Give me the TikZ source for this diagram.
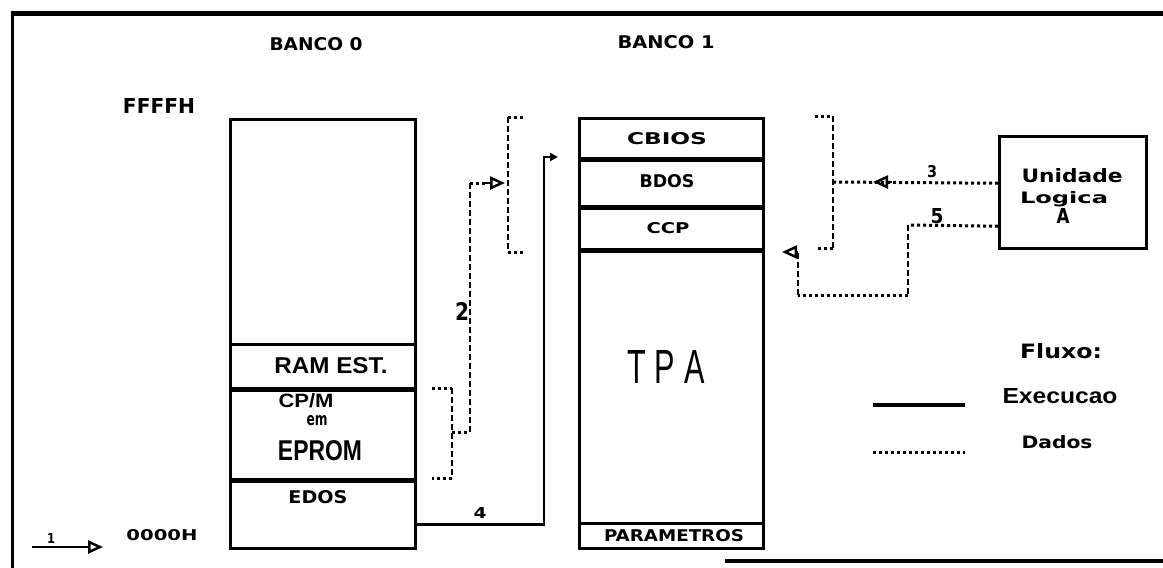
\documentclass[tikz,border=0pt]{standalone}
\usepackage{fontspec}
\setmainfont{Liberation Sans}
\newfontfamily\heavy{DejaVu Sans}
\usetikzlibrary{arrows.meta}
\newcommand{\fitbox}[3]{\resizebox{#1pt}{#2pt}{#3}}
\begin{document}
\begin{tikzpicture}[x=1pt,y=-1pt,
  sec/.style={draw, line width=2.5pt, inner sep=0pt, anchor=north west},
  lbl/.style={anchor=base, inner sep=0pt, font=\heavy\bfseries},
  lblm/.style={anchor=base, inner sep=0pt, font=\bfseries},
  lblr/.style={anchor=base, inner sep=0pt, font=\mdseries},
  exec/.style={line width=2.5pt},
  hdot/.style={line width=3pt, dash pattern=on 3pt off 3pt},
  vdash/.style={line width=2.5pt, dash pattern=on 6pt off 3pt},
  otip/.style={-{Triangle[open,length=15pt,width=13pt,line width=2.5pt]}},
]
\useasboundingbox (0,0) rectangle (1163,568);
% frame
\draw[line width=5pt] (10.5,13) -- (1163,13);
\draw[line width=3pt] (12,11) -- (12,568);
\draw[line width=4pt] (725,561) -- (1163,561);

% bank 0
\node[sec, minimum width=185pt, minimum height=225pt] (b0free) at (229,118) {};
\node[sec, minimum width=185pt, minimum height=46pt] (ram) at (229,343) {};
\node[sec, minimum width=185pt, minimum height=91pt] (cpm) at (229,389) {};
\node[sec, minimum width=185pt, minimum height=67pt] (edos) at (229,480) {};
\draw[line width=4pt] (cpm.north west) -- (cpm.north east);
\draw[line width=4pt] (edos.north west) -- (edos.north east);

% bank 1
\node[sec, minimum width=184pt, minimum height=42pt] (cbios) at (578,117) {};
\node[sec, minimum width=184pt, minimum height=48pt] (bdos) at (578,159) {};
\node[sec, minimum width=184pt, minimum height=43pt] (ccp) at (578,207) {};
\node[sec, minimum width=184pt, minimum height=272pt] (tpa) at (578,250) {};
\node[sec, minimum width=184pt, minimum height=25pt] (param) at (578,522) {};
\draw[line width=3.5pt] (bdos.north west) -- (bdos.north east);
\draw[line width=3.5pt] (ccp.north west) -- (ccp.north east);
\draw[line width=3.5pt] (tpa.north west) -- (tpa.north east);

% logical unit
\node[sec, minimum width=147pt, minimum height=112pt] (ula) at (998,135) {};

% labels
\node[lbl] (tb0) at (316,50) {\fitbox{93}{13}{BANCO 0}};
\node[lbl] (tb1) at (666,48) {\fitbox{97}{13}{BANCO 1}};
\node[lbl] (tf) at (159,113) {\fitbox{72}{15}{FFFFH}};
\node[lbl] (t0) at (162,540) {\fitbox{71}{11}{0000H}};
\node[lbl] (tcbios) at (667,144) {\fitbox{80}{12}{CBIOS}};
\node[lbl] (tbdos) at (667,187) {\fitbox{55}{13}{BDOS}};
\node[lbl] (tccp) at (668,233) {\fitbox{43}{11}{CCP}};
\node[lblr] (ttpa) at (666,383) {\fitbox{78}{33}{T\hspace{0.3em}P\hspace{0.3em}A}};
\node[lbl] (tparam) at (674,541) {\fitbox{140}{12}{PARAMETROS}};
\node[lblm] (tram) at (331,373) {\fitbox{113}{16}{RAM EST.}};
\node[lblm] (tcpm) at (306,407) {\fitbox{55}{14}{CP/M}};
\node[lbl] (tem) at (317,425) {\fitbox{21}{10}{em}};
\node[lblm] (teprom) at (320,460) {\fitbox{84}{20}{EPROM}};
\node[lbl] (tedos) at (318,503) {\fitbox{59}{13}{EDOS}};
\node[lbl] (tuni) at (1072,182) {\fitbox{101}{14}{Unidade}};
\node[lbl] (tlog) at (1064,203) {\fitbox{88}{12}{Logica}};
\node[lbl] (ta) at (1063,223) {\fitbox{13}{15}{A}};
\node[lbl] (tflux) at (1061,358) {\fitbox{82}{15}{Fluxo:}};
\node[lblm] (texec) at (1060,403) {\fitbox{115}{15}{Execucao}};
\node[lbl] (tdados) at (1057,448) {\fitbox{71}{13}{Dados}};

% arrow 1
\coordinate (a1s) at (32,547);
\coordinate (a1e) at (103,547);
\draw[line width=2.5pt, otip] (a1s) -- (a1e);
\node[lbl] (n1) at (51,543) {\fitbox{8}{10}{1}};

% execution 4
\coordinate (x4top) at (544,157);
\coordinate (x4end) at (558,157);
\draw[exec, -{Triangle[length=8pt,width=8pt]}] ([yshift=-9.5pt]edos.east) -| (x4top) -- (x4end);
\node[lbl] (n4) at (480,518) {\fitbox{13}{11}{4}};

% data 2: bracket on CP/M
\coordinate (b2t0) at (432,388); \coordinate (b2t1) at (452,388);
\coordinate (b2b0) at (432,478); \coordinate (b2b1) at (452,478);
\coordinate (b2m) at (452,432); \coordinate (b2c) at (470,432);
\coordinate (b2u) at (470,183); \coordinate (b2e) at (505,183);
\draw[hdot] (b2t0) -- (b2t1);
\draw[vdash] (b2t1) -- (b2b1);
\draw[hdot] (b2b1) -- (b2b0);
\draw[hdot] (b2m) -- (b2c);
\draw[vdash] (b2c) -- (b2u);
\draw[hdot] (b2u) -- (485,183);
\draw[line width=2.5pt, otip] (485,183) -- (b2e);
\node[lbl] (n2) at (462,320) {\fitbox{14}{18}{2}};

% bracket left of bank 1
\coordinate (bl1) at (523,117); \coordinate (bl2) at (508,117);
\coordinate (bl3) at (508,252); \coordinate (bl4) at (523,252);
\draw[hdot] (bl1) -- (bl2);
\draw[vdash] (bl2) -- (bl3);
\draw[hdot] (bl3) -- (bl4);

% bracket right of bank 1
\coordinate (br1) at (815,116); \coordinate (br2) at (833,116);
\coordinate (br3) at (833,248); \coordinate (br4) at (815,248);
\draw[hdot] (br1) -- (br2);
\draw[vdash] (br2) -- (br3);
\draw[hdot] (br3) -- (br4);

% data 3
\coordinate (d3e) at (833,182);
\draw[hdot] ([yshift=9pt]ula.west) -- (d3e);
\draw[line width=2.5pt, otip] (892,182) -- (873,182);
\node[lbl] (n3) at (932,177) {\fitbox{10}{12}{3}};

% data 5
\coordinate (d5a) at (908,225); \coordinate (d5b) at (908,295);
\coordinate (d5c) at (798,295); \coordinate (d5d) at (798,252);
\coordinate (d5e) at (782,252);
\draw[hdot] ([yshift=-34pt]ula.west) -- (d5a);
\draw[vdash] (d5a) -- (d5b);
\draw[hdot] (d5b) -- (d5c);
\draw[vdash] (d5c) -- (d5d);
\draw[line width=2.5pt, otip] (d5d) -- (d5e);
\node[lbl] (n5) at (937,223) {\fitbox{13}{15}{5}};

% legend lines
\coordinate (le1) at (873,405); \coordinate (le2) at (965,405);
\coordinate (ld1) at (873,452); \coordinate (ld2) at (965,452);
\draw[line width=4pt] (le1) -- (le2);
\draw[hdot] (ld1) -- (ld2);
\end{tikzpicture}
\end{document}
